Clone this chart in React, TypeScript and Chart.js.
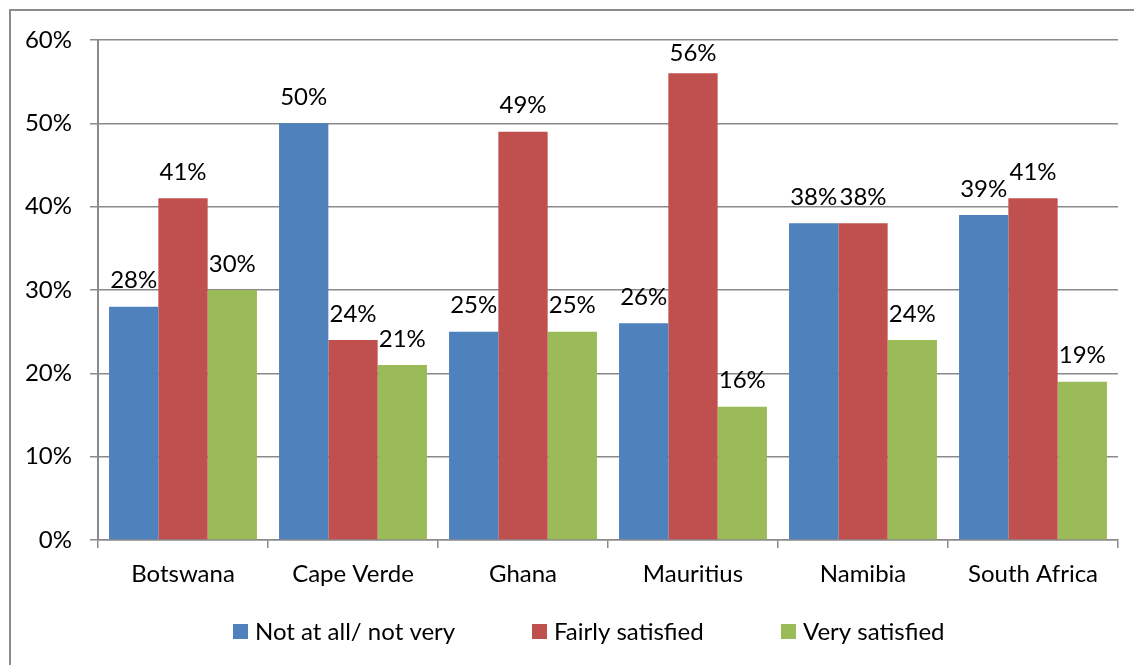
import React, { useEffect, useRef } from "react";
import { Chart, registerables } from "chart.js";

Chart.register(...registerables);

const categories = ["Botswana", "Cape Verde", "Ghana", "Mauritius", "Namibia", "South Africa"];
const notAtAll = [28, 50, 25, 26, 38, 39];
const fairly = [41, 24, 49, 56, 38, 41];
const very = [30, 21, 25, 16, 24, 19];
const seriesNames = ["Not at all/ not very", "Fairly satisfied", "Very satisfied"];
const seriesColors = ["#4F81BD", "#C0504D", "#9BBB59"];
const yTicks = [0, 10, 20, 30, 40, 50, 60];

const FONT = "Lato, 'Open Sans', sans-serif";
const FSIZE = 24;
const GRID = "#8a8a8a";

const framePlugin = {
  id: "frame",
  beforeDraw(chart: any) {
    const ctx = chart.ctx;
    ctx.save();
    ctx.fillStyle = "#ffffff";
    ctx.fillRect(0, 0, chart.width, chart.height);
    ctx.strokeStyle = "#8c8c8c";
    ctx.lineWidth = 2;
    ctx.strokeRect(10, 10, chart.width + 20, chart.height + 20);
    ctx.restore();
  },
};

const labelPlugin = {
  id: "valueLabels",
  afterDatasetsDraw(chart: any) {
    const ctx = chart.ctx;
    const top = chart.chartArea.top;
    ctx.save();
    ctx.font = `${FSIZE}px ${FONT}`;
    ctx.fillStyle = "#000";
    ctx.textAlign = "center";
    ctx.textBaseline = "middle";
    chart.data.datasets.forEach((ds: any, di: number) => {
      const meta = chart.getDatasetMeta(di);
      meta.data.forEach((bar: any, i: number) => {
        const y = Math.max(bar.y - 26, top + 13);
        ctx.fillText(`${ds.data[i]}%`, bar.x, y);
      });
    });
    ctx.restore();
  },
};

const legendPlugin = {
  id: "customLegend",
  afterDraw(chart: any) {
    const ctx = chart.ctx;
    const boxX = [233, 532, 781];
    const y = 632;
    ctx.save();
    ctx.font = `${FSIZE}px ${FONT}`;
    ctx.textBaseline = "middle";
    ctx.textAlign = "left";
    chart.data.datasets.forEach((ds: any, i: number) => {
      ctx.fillStyle = ds.backgroundColor;
      ctx.fillRect(boxX[i], y - 8, 15, 15);
      ctx.fillStyle = "#000";
      ctx.fillText(ds.label, boxX[i] + 22, y);
    });
    ctx.restore();
  },
};

export default function App() {
  const ref = useRef<HTMLCanvasElement | null>(null);
  useEffect(() => {
    if (!ref.current) return;
    const data = [notAtAll, fairly, very];
    const chart = new Chart(ref.current, {
      type: "bar",
      data: {
        labels: categories,
        datasets: data.map((d, i) => ({
          label: seriesNames[i],
          data: d,
          backgroundColor: seriesColors[i],
          borderWidth: 0,
          categoryPercentage: 0.87,
          barPercentage: 1,
        })),
      },
      options: {
        responsive: false,
        animation: false,
        layout: { padding: { left: 10, top: 40, right: 16, bottom: 75 } },
        plugins: {
          legend: { display: false },
          tooltip: { enabled: false },
        },
        scales: {
          x: {
            grid: {
              offset: true,
              drawOnChartArea: false,
              drawTicks: true,
              tickLength: 8,
              color: GRID,
              lineWidth: 1.5,
            },
            border: { color: GRID, width: 1.5 },
            ticks: {
              color: "#000",
              font: { family: FONT, size: FSIZE },
              padding: 12,
            },
            afterFit(scale: any) {
              scale.height = 50;
            },
          },
          y: {
            min: 0,
            max: 60,
            afterBuildTicks(scale: any) {
              scale.ticks = yTicks.map((v) => ({ value: v }));
            },
            grid: {
              color: GRID,
              lineWidth: 1.5,
              drawTicks: true,
              tickLength: 8,
            },
            border: { color: GRID, width: 2 },
            ticks: {
              color: "#000",
              font: { family: FONT, size: FSIZE },
              padding: 18,
              callback: (v: any) => `${v}%`,
            },
            afterFit(scale: any) {
              scale.width = 88;
            },
          },
        },
      },
      plugins: [framePlugin, labelPlugin, legendPlugin],
    });
    return () => chart.destroy();
  }, []);
  return (
    <div style={{ position: "absolute", left: 0, top: 0, width: 1134, height: 665 }}>
      <canvas ref={ref} width={1134} height={665} style={{ display: "block" }} />
    </div>
  );
}
